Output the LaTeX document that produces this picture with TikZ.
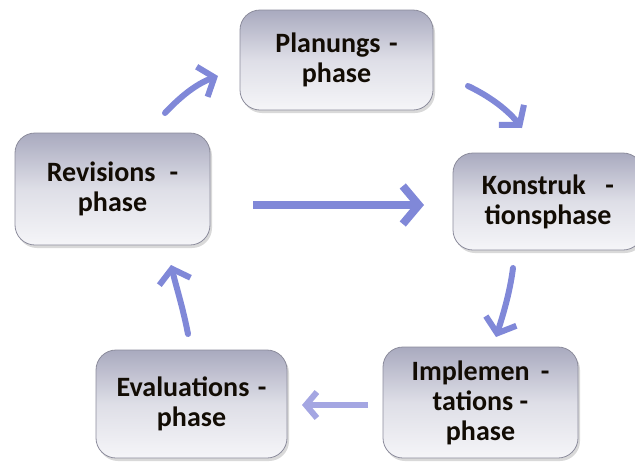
\documentclass[tikz,border=0pt]{standalone}
\usepackage{fontspec}
\setmainfont{Carlito}
\usetikzlibrary{arrows.meta,shadows}
\definecolor{arrowc}{HTML}{8088D8}
\definecolor{arrowl}{HTML}{A4A6E2}
\definecolor{boxtop}{HTML}{A9AABF}
\definecolor{boxbot}{HTML}{F5F5F8}
\definecolor{boxline}{HTML}{8C8C9C}
\definecolor{textc}{HTML}{120C04}
\tikzset{
  phasebox/.style={draw=boxline, line width=0.8pt, rounded corners=20pt,
    top color=boxtop, bottom color=boxbot, middle color=boxbot!70!boxtop,
    shading angle=0,
    drop shadow={shadow xshift=2pt, shadow yshift=-3pt, opacity=0.25, fill=black!60},
    align=center, font=\fontsize{28}{30}\selectfont\bfseries, text=textc,
    inner sep=0pt},
  flowarrow/.style={draw=arrowc, line width=6pt, line cap=round,
    -{Straight Barb[length=13pt, width=32pt, line width=6pt]}},
  bigarrow/.style={draw=arrowc, line width=8pt,
    -{Straight Barb[length=16pt, width=38pt, line width=8pt]}},
  thinarrow/.style={draw=arrowl, line width=6pt,
    -{Straight Barb[length=11pt, width=26pt, line width=6pt]}}
}
\begin{document}
\begin{tikzpicture}[x=1pt,y=-1pt]
\useasboundingbox (0,0) rectangle (635,464);
\clip (0,0) rectangle (635,464);
\node[phasebox, minimum width=193pt, minimum height=100pt] (plan) at (336.5,60) {Planungs\hspace{0.3em}-\\phase};
\node[phasebox, minimum width=190pt, minimum height=97pt] (kon) at (548,201.5) {Konstruk\hspace{0.7em}-\\tionsphase\hspace{0.5em}};
\node[phasebox, minimum width=195pt, minimum height=111pt] (impl) at (480.5,402.5) {Implemen\hspace{0.4em}-\\tations -\\phase};
\node[phasebox, minimum width=191pt, minimum height=108pt] (eval) at (191.5,404) {Evaluations\hspace{0.3em}-\\phase};
\node[phasebox, minimum width=195pt, minimum height=112pt] (rev) at (112.5,189) {Revisions\hspace{0.5em}-\\phase};

\coordinate (a1s) at (165,113); \coordinate (a1e) at (218,76);
\coordinate (a2s) at (468,86);  \coordinate (a2e) at (522,128);
\coordinate (a3s) at (513,268); \coordinate (a3e) at (496,337);
\coordinate (a4s) at (368,405); \coordinate (a4e) at (302,405);
\coordinate (a5s) at (188,334); \coordinate (a5e) at (171,265);
\coordinate (a6s) at (253,205); \coordinate (a6e) at (424,205);

\draw[flowarrow] (a1s) .. controls (180,97) and (196,84) .. (a1e);
\draw[flowarrow] (a2s) .. controls (487,95) and (506,108) .. (a2e);
\draw[flowarrow] (a3s) .. controls (510,292) and (503,315) .. (a3e);
\draw[thinarrow] (a4s) -- (a4e);
\draw[flowarrow] (a5s) .. controls (183,308) and (176,286) .. (a5e);
\draw[bigarrow] (a6s) -- (a6e);
\end{tikzpicture}
\end{document}
